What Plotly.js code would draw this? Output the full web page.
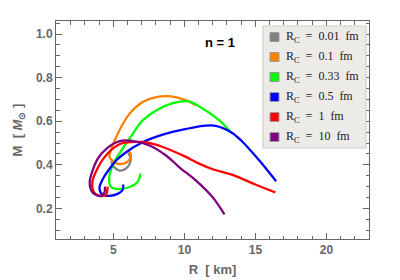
<!DOCTYPE html>
<html>
<head>
<meta charset="utf-8">
<script src="https://cdn.plot.ly/plotly-3.0.1.min.js"></script>
<style>html,body{margin:0;padding:0;background:#fff;}#chart{width:400px;height:280px;}</style>
</head>
<body>
<div id="chart"></div>
<script>
// Series: radius R [km] and mass M [M_sun]
const grayR   = [4.84, 5.05, 5.40, 5.87, 6.15, 6.22, 6.05];
const grayM   = [0.415, 0.390, 0.374, 0.382, 0.405, 0.430, 0.455];

const orangeR = [10.82, 10.12, 9.06, 8.01, 7.06, 6.13, 5.42, 4.84, 4.72, 5.08, 5.63, 6.10, 6.22, 6.03];
const orangeM = [0.673, 0.696, 0.714, 0.711, 0.688, 0.634, 0.558, 0.470, 0.440, 0.410, 0.405, 0.420, 0.450, 0.466];

const greenR  = [13.35, 12.46, 11.06, 10.23, 9.18, 8.01, 7.06, 6.13, 5.50, 5.05, 4.72, 4.81, 5.16, 5.99, 6.69, 6.92];
const greenM  = [0.545, 0.604, 0.668, 0.692, 0.683, 0.650, 0.604, 0.520, 0.460, 0.412, 0.350, 0.300, 0.290, 0.295, 0.320, 0.360];

const blueR   = [16.46, 15.28, 14.00, 13.29, 12.10, 11.06, 9.65, 8.71, 7.06, 5.89, 5.19, 4.81, 4.30, 4.02, 4.20, 4.72, 5.30, 5.65, 5.70];
const blueM   = [0.325, 0.420, 0.512, 0.550, 0.580, 0.577, 0.558, 0.543, 0.504, 0.458, 0.420, 0.389, 0.340, 0.295, 0.265, 0.258, 0.267, 0.285, 0.310];

const redR    = [16.40, 15.00, 13.40, 12.00, 11.00, 10.00, 9.10, 8.00, 7.00, 5.51, 4.58, 3.87, 3.52, 3.64, 3.99, 4.46, 4.60];
const redM    = [0.274, 0.310, 0.354, 0.380, 0.407, 0.440, 0.466, 0.493, 0.505, 0.497, 0.451, 0.382, 0.320, 0.274, 0.259, 0.262, 0.300];

const purpleR = [12.82, 12.00, 10.82, 9.65, 8.71, 7.54, 6.60, 5.51, 4.58, 3.87, 3.33, 3.45, 3.70, 4.10, 4.38, 4.40];
const purpleM = [0.173, 0.251, 0.328, 0.389, 0.443, 0.489, 0.507, 0.510, 0.478, 0.425, 0.320, 0.282, 0.265, 0.257, 0.275, 0.300];

const seriesNames = ['R<sub>C</sub>&nbsp; = &nbsp;0.01&nbsp; fm', 'R<sub>C</sub>&nbsp; = &nbsp;0.1&nbsp; fm',
                     'R<sub>C</sub>&nbsp; = &nbsp;0.33&nbsp; fm', 'R<sub>C</sub>&nbsp; = &nbsp;0.5&nbsp; fm',
                     'R<sub>C</sub>&nbsp; = &nbsp;1&nbsp; fm', 'R<sub>C</sub>&nbsp; = &nbsp;10&nbsp; fm'];
const seriesColors = ['#808080', '#ff8000', '#00ff00', '#0000ff', '#ff0000', '#800080'];

const xTickVals = [5, 10, 15, 20];
const xTickText = ['5', '10', '15', '20'];
const yTickVals = [0.2, 0.4, 0.6, 0.8, 1.0];
const yTickText = ['0.2', '0.4', '0.6', '0.8', '1.0'];

const xs = [grayR, orangeR, greenR, blueR, redR, purpleR];
const ys = [grayM, orangeM, greenM, blueM, redM, purpleM];

const traces = [];
for (let i = 0; i < xs.length; i++) {
  traces.push({
    x: xs[i], y: ys[i], type: 'scatter', mode: 'lines', name: seriesNames[i],
    line: {color: seriesColors[i], width: 2.3, shape: 'spline', smoothing: 0.9},
    showlegend: false, hoverinfo: 'skip'
  });
}

// Legend built from shapes + annotations (layout geometry in pixels -> paper coords)
const plotL = 56, plotR = 369, plotT = 21, plotB = 239;
const px2x = p => (p - plotL) / (plotR - plotL);
const py2y = p => (plotB - p) / (plotB - plotT);

const shapes = [{
  type: 'rect', xref: 'paper', yref: 'paper',
  x0: px2x(263), x1: px2x(366), y0: py2y(148), y1: py2y(26),
  fillcolor: '#edebe7', line: {color: '#cfcdc9', width: 1.2}, layer: 'above'
}];
const annotations = [{
  xref: 'paper', yref: 'paper', x: px2x(220), y: py2y(43), xanchor: 'center', yanchor: 'middle',
  text: 'n = 1', showarrow: false,
  font: {family: 'Liberation Sans, Arial, sans-serif', size: 13, color: '#000000', weight: 'bold'}
}];
for (let i = 0; i < seriesNames.length; i++) {
  const cy = 37 + 20 * i;
  shapes.push({
    type: 'rect', xref: 'paper', yref: 'paper',
    x0: px2x(270), x1: px2x(279), y0: py2y(cy + 4.5), y1: py2y(cy - 4.5),
    fillcolor: seriesColors[i], line: {color: '#9a9a9a', width: 1}, layer: 'above'
  });
  annotations.push({
    xref: 'paper', yref: 'paper', x: px2x(284), y: py2y(cy), xanchor: 'left', yanchor: 'middle',
    text: seriesNames[i], showarrow: false,
    font: {family: 'Liberation Serif, DejaVu Serif, serif', size: 12, color: '#222222'}
  });
}

const gray = '#666666';
const tickFont = {family: 'Liberation Sans, Arial, sans-serif', size: 12, color: gray, weight: 'bold'};

const axisCommon = {
  showgrid: false, zeroline: false, showline: true, linecolor: gray, linewidth: 1,
  mirror: 'allticks', ticks: 'inside', ticklen: 6, tickcolor: gray, tickwidth: 1,
  tickfont: tickFont, tickmode: 'array'
};

const layout = {
  width: 400, height: 280,
  margin: {l: plotL, r: 400 - plotR, t: plotT, b: 280 - plotB},
  paper_bgcolor: '#ffffff', plot_bgcolor: '#ffffff',
  showlegend: false,
  xaxis: Object.assign({}, axisCommon, {
    range: [0.96, 23], tickvals: xTickVals, ticktext: xTickText,
    minor: {tickvals: [1,2,3,4,6,7,8,9,11,12,13,14,16,17,18,19,21,22], ticks: 'inside', ticklen: 3.5, tickcolor: gray, tickwidth: 1},
    title: {text: 'R  [ km]', font: {family: 'Liberation Sans, Arial, sans-serif', size: 13, color: gray, weight: 'bold'}, standoff: 8}
  }),
  yaxis: Object.assign({}, axisCommon, {
    range: [0.06, 1.06], tickvals: yTickVals, ticktext: yTickText,
    minor: {tickvals: [0.1,0.15,0.25,0.3,0.35,0.45,0.5,0.55,0.65,0.7,0.75,0.85,0.9,0.95,1.05], ticks: 'inside', ticklen: 3.5, tickcolor: gray, tickwidth: 1},
    title: {text: 'M  [ <i>M</i><sub>⊙</sub> ]', font: {family: 'Liberation Sans, Arial, sans-serif', size: 13, color: gray, weight: 'bold'}, standoff: 10}
  }),
  shapes: shapes,
  annotations: annotations
};

Plotly.newPlot('chart', traces, layout, {staticPlot: true, displayModeBar: false});
</script>
</body>
</html>
